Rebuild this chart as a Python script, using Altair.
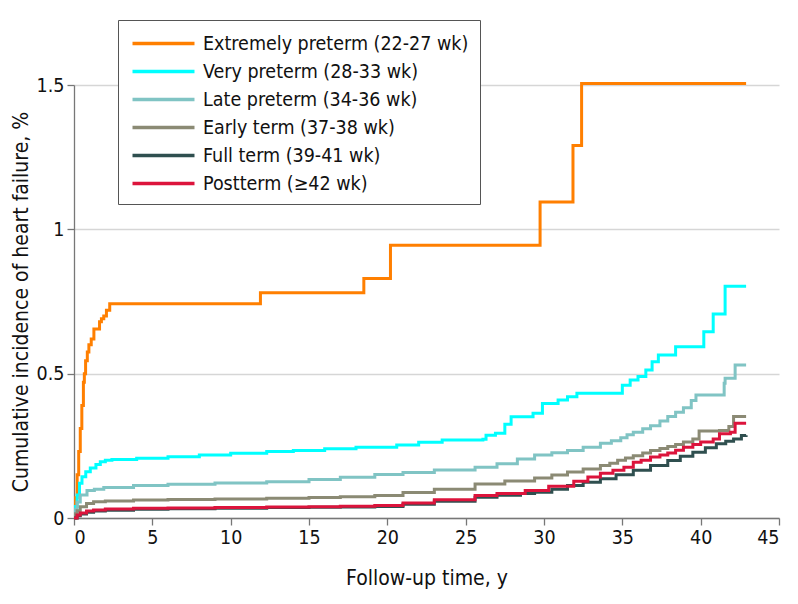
import altair as alt
import pandas as pd

FONT = "DejaVu Sans Condensed"

series_names = [
    "Extremely preterm (22-27 wk)",
    "Very preterm (28-33 wk)",
    "Late preterm (34-36 wk)",
    "Early term (37-38 wk)",
    "Full term (39-41 wk)",
    "Postterm (≥42 wk)",
]
series_colors = ["#FF7F00", "#00FFFF", "#80C4C4", "#8B8A74", "#2F4F4F", "#DC143C"]

ext_t = [0, 0.1, 0.2, 0.3, 0.4, 0.5, 0.6, 0.66, 0.74, 0.85, 0.95, 1.1, 1.27, 1.63, 1.75, 1.9, 2.07, 2.28,
         11.9, 18.5, 20.2, 29.75, 31.85, 32.4, 42.9]
ext_v = [0, 0.07, 0.15, 0.23, 0.31, 0.39, 0.47, 0.5, 0.545, 0.575, 0.6, 0.62, 0.655, 0.68, 0.69, 0.70, 0.72, 0.742,
         0.78, 0.83, 0.945, 1.095, 1.29, 1.505, 1.505]

vp_t = [0, 0.1, 0.2, 0.35, 0.51, 0.75, 1.04, 1.4, 1.68, 2.0, 2.42, 4, 6, 8, 10, 12.3, 14, 16, 18, 20.6, 22,
        23.5, 26.1, 26.3, 26.9, 27.5, 27.9, 29.3, 29.9, 30.9, 31.5, 32.1, 34.7, 35.0, 35.5, 36.0, 36.5, 36.9,
        37.3, 38.4, 40.2, 40.8, 41.56, 42.9]
vp_v = [0, 0.04, 0.08, 0.12, 0.143, 0.16, 0.173, 0.185, 0.195, 0.2, 0.203, 0.207, 0.212, 0.218, 0.224, 0.23,
        0.234, 0.24, 0.245, 0.253, 0.262, 0.27, 0.273, 0.287, 0.294, 0.325, 0.351, 0.363, 0.397, 0.409, 0.42,
        0.432, 0.432, 0.46, 0.478, 0.49, 0.513, 0.541, 0.565, 0.593, 0.645, 0.707, 0.803, 0.803]

lp_t = [0, 0.1, 0.2, 0.4, 0.83, 1.3, 1.9, 3.8, 6, 9, 12.3, 15, 17, 19.2, 21, 23, 25.6, 27, 28.3, 29.4, 30.5,
        31.5, 32.5, 33.6, 34.3, 34.9, 35.3, 35.7, 36.3, 36.8, 37.4, 37.9, 38.4, 38.9, 39.4, 39.7, 41.2, 41.5,
        41.56, 42.2, 42.9]
lp_v = [0, 0.03, 0.055, 0.08, 0.095, 0.1, 0.106, 0.113, 0.117, 0.121, 0.126, 0.133, 0.141, 0.151, 0.158,
        0.166, 0.176, 0.188, 0.204, 0.218, 0.226, 0.234, 0.245, 0.259, 0.268, 0.278, 0.288, 0.297, 0.309, 0.32,
        0.336, 0.352, 0.366, 0.382, 0.407, 0.426, 0.426, 0.467, 0.484, 0.53, 0.53]

et_t = [0, 0.1, 0.2, 0.4, 0.8, 1.25, 2, 3.8, 6, 9, 12.3, 15, 17, 19.2, 21, 23, 25.6, 27.5, 29.4, 30.5, 31.5,
        32.5, 33.6, 34.2, 34.7, 35.2, 35.7, 36.3, 36.8, 37.4, 37.9, 38.4, 38.9, 39.5, 39.9, 41.2, 41.8, 42.1,
        42.9]
et_v = [0, 0.015, 0.025, 0.039, 0.05, 0.056, 0.059, 0.062, 0.064, 0.066, 0.068, 0.071, 0.074, 0.078, 0.088,
        0.1, 0.118, 0.128, 0.139, 0.149, 0.159, 0.17, 0.182, 0.19, 0.2, 0.208, 0.216, 0.225, 0.234, 0.241,
        0.248, 0.255, 0.263, 0.274, 0.301, 0.303, 0.317, 0.352, 0.352]

ft_t = [0, 0.2, 0.4, 0.8, 1.25, 2, 3.8, 6, 9, 12.3, 15, 17, 19.2, 21, 23, 25.6, 27, 28.5, 29.4, 30.5, 31.5,
        32.5, 33.6, 34.6, 35.7, 36.8, 37.9, 38.7, 39.5, 40.3, 41.0, 41.6, 42.1, 42.6, 42.9]
ft_v = [0, 0.008, 0.014, 0.02, 0.024, 0.027, 0.03, 0.032, 0.034, 0.036, 0.037, 0.038, 0.04, 0.048, 0.058,
        0.072, 0.079, 0.085, 0.089, 0.1, 0.113, 0.124, 0.136, 0.15, 0.165, 0.182, 0.199, 0.214, 0.228, 0.243,
        0.257, 0.266, 0.274, 0.286, 0.287]

pt_t = [0, 0.2, 0.4, 0.8, 1.25, 2, 3.8, 6, 9, 12.3, 15, 17, 19.2, 21, 23, 25.6, 27, 28.8, 30.3, 31.9, 32.8,
        33.6, 34.4, 35.1, 35.7, 36.2, 36.8, 37.4, 37.9, 38.4, 38.9, 39.5, 40.0, 40.8, 41.2, 41.9, 42.2, 42.9]
pt_v = [0, 0.01, 0.017, 0.024, 0.028, 0.031, 0.034, 0.035, 0.036, 0.038, 0.039, 0.041, 0.043, 0.052, 0.063,
        0.078, 0.085, 0.095, 0.11, 0.127, 0.142, 0.155, 0.165, 0.176, 0.193, 0.2, 0.211, 0.218, 0.225, 0.235,
        0.245, 0.255, 0.263, 0.274, 0.292, 0.297, 0.328, 0.328]

x_ticks = [0, 5, 10, 15, 20, 25, 30, 35, 40, 45]
y_ticks = [0, 0.5, 1, 1.5]

all_t = [ext_t, vp_t, lp_t, et_t, ft_t, pt_t]
all_v = [ext_v, vp_v, lp_v, et_v, ft_v, pt_v]

rows = []
for i, (name, ts, vs) in enumerate(zip(series_names, all_t, all_v)):
    for t, v in zip(ts, vs):
        rows.append({"group": name, "order": i, "t": t, "v": v})
df = pd.DataFrame(rows)

chart = alt.Chart(df).mark_line(interpolate="step-after", strokeWidth=3).encode(
    x=alt.X("t:Q", scale=alt.Scale(domain=[0, 45], nice=False, zero=False),
            axis=alt.Axis(title="Follow-up time, y", values=x_ticks, grid=False, tickSize=7,
                          labelPadding=3, titlePadding=21)),
    y=alt.Y("v:Q", scale=alt.Scale(domain=[0, 1.5], nice=False),
            axis=alt.Axis(title="Cumulative incidence of heart failure, %", values=y_ticks, grid=True,
                          tickSize=7, labelPadding=3, titlePadding=5,
                          labelExpr="toString(datum.value)")),
    color=alt.Color("group:N", scale=alt.Scale(domain=series_names, range=series_colors),
                    legend=alt.Legend(title=None, orient="none", legendX=44, legendY=-65,
                                      symbolType="M-3,0H3", symbolSize=427, symbolStrokeWidth=3.5,
                                      symbolOffset=22,
                                      labelFont=FONT, labelFontSize=19.5, labelColor="#111",
                                      labelOffset=27, rowPadding=6, padding=11, labelLimit=500,
                                      strokeColor="#555", fillColor="white")),
    order=alt.Order("order:Q"),
    detail="group:N",
).properties(
    width=705, height=433,
    padding={"left": 66, "top": 77, "right": 11, "bottom": 74},
    autosize=alt.AutoSizeParams(type="none"),
).configure_view(stroke=None).configure_axis(
    labelFont=FONT, titleFont=FONT, labelFontSize=19.5, titleFontSize=21, titleFontWeight="normal",
    labelColor="#111", titleColor="#111", domainColor="#777", tickColor="#777", domainWidth=1.3,
    tickWidth=1.3, gridColor="#d6d6d6", gridWidth=1.5,
)

chart.save("out.html", embed_options={"renderer": "svg", "actions": False})
